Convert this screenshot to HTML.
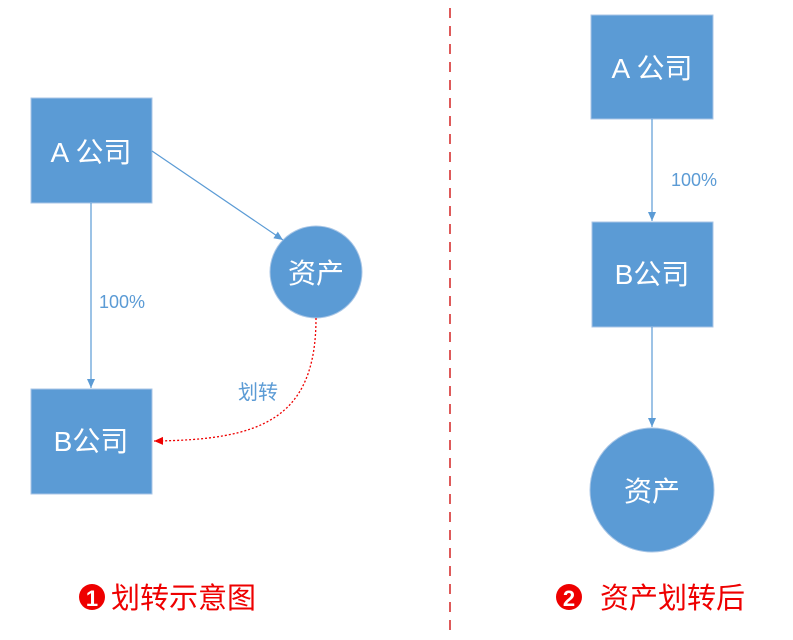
<!DOCTYPE html>
<html><head><meta charset="utf-8"><style>
body{margin:0;background:#fff;}
svg text{font-family:"Liberation Sans","Noto Sans CJK SC",sans-serif;}
</style></head><body>
<svg width="793" height="635" viewBox="0 0 793 635" xmlns="http://www.w3.org/2000/svg">
<defs>
<marker id="ab" markerWidth="10" markerHeight="10" refX="9" refY="5" orient="auto" markerUnits="userSpaceOnUse"><path d="M0,1 L9,5 L0,9 z" fill="#5b9bd5"/></marker>
<marker id="ar" markerWidth="10" markerHeight="10" refX="9" refY="5" orient="auto" markerUnits="userSpaceOnUse"><path d="M0,1 L9,5 L0,9 z" fill="#e00"/></marker>
</defs>
<line x1="450" y1="8" x2="450" y2="635" stroke="#c00" stroke-width="1.3" stroke-dasharray="10,8"/>
<rect x="31" y="98" width="121" height="105" fill="#5b9bd5" stroke="#a9c6e6"/>
<text x="91" y="162" font-size="28" fill="#fff" text-anchor="middle">A 公司</text>
<rect x="31" y="389" width="121" height="105" fill="#5b9bd5" stroke="#a9c6e6"/>
<text x="91" y="451" font-size="28" fill="#fff" text-anchor="middle">B公司</text>
<circle cx="316" cy="272" r="46" fill="#5b9bd5" stroke="#a9c6e6"/>
<text x="316" y="283" font-size="28" fill="#fff" text-anchor="middle">资产</text>
<line x1="91" y1="203" x2="91" y2="388" stroke="#5b9bd5" stroke-width="1.2" marker-end="url(#ab)"/>
<line x1="152" y1="151" x2="283" y2="240" stroke="#5b9bd5" stroke-width="1.2" marker-end="url(#ab)"/>
<text x="99" y="308" font-size="18" fill="#5b9bd5">100%</text>
<path d="M316,318 C316,420 260,440 154,441" fill="none" stroke="#e00" stroke-width="1.3" stroke-dasharray="2,2" marker-end="url(#ar)"/>
<text x="238" y="399" font-size="20" fill="#5b9bd5">划转</text>
<rect x="591" y="15" width="122" height="104" fill="#5b9bd5" stroke="#a9c6e6"/>
<text x="652" y="78" font-size="28" fill="#fff" text-anchor="middle">A 公司</text>
<rect x="592" y="222" width="121" height="105" fill="#5b9bd5" stroke="#a9c6e6"/>
<text x="652" y="284" font-size="28" fill="#fff" text-anchor="middle">B公司</text>
<circle cx="652" cy="490" r="62" fill="#5b9bd5" stroke="#a9c6e6"/>
<text x="652" y="501" font-size="28" fill="#fff" text-anchor="middle">资产</text>
<line x1="652" y1="119" x2="652" y2="221" stroke="#5b9bd5" stroke-width="1.2" marker-end="url(#ab)"/>
<line x1="652" y1="327" x2="652" y2="427" stroke="#5b9bd5" stroke-width="1.2" marker-end="url(#ab)"/>
<text x="671" y="186" font-size="18" fill="#5b9bd5">100%</text>
<circle cx="92" cy="597" r="13" fill="#e00"/>
<text x="92" y="606" font-size="22" font-weight="bold" fill="#fff" text-anchor="middle" font-family="Liberation Serif,serif">1</text>
<text x="111" y="608" font-size="29" fill="#e00">划转示意图</text>
<circle cx="569" cy="597" r="13" fill="#e00"/>
<text x="569" y="606" font-size="22" font-weight="bold" fill="#fff" text-anchor="middle" font-family="Liberation Serif,serif">2</text>
<text x="600" y="608" font-size="29" fill="#e00">资产划转后</text>
</svg>
</body></html>
